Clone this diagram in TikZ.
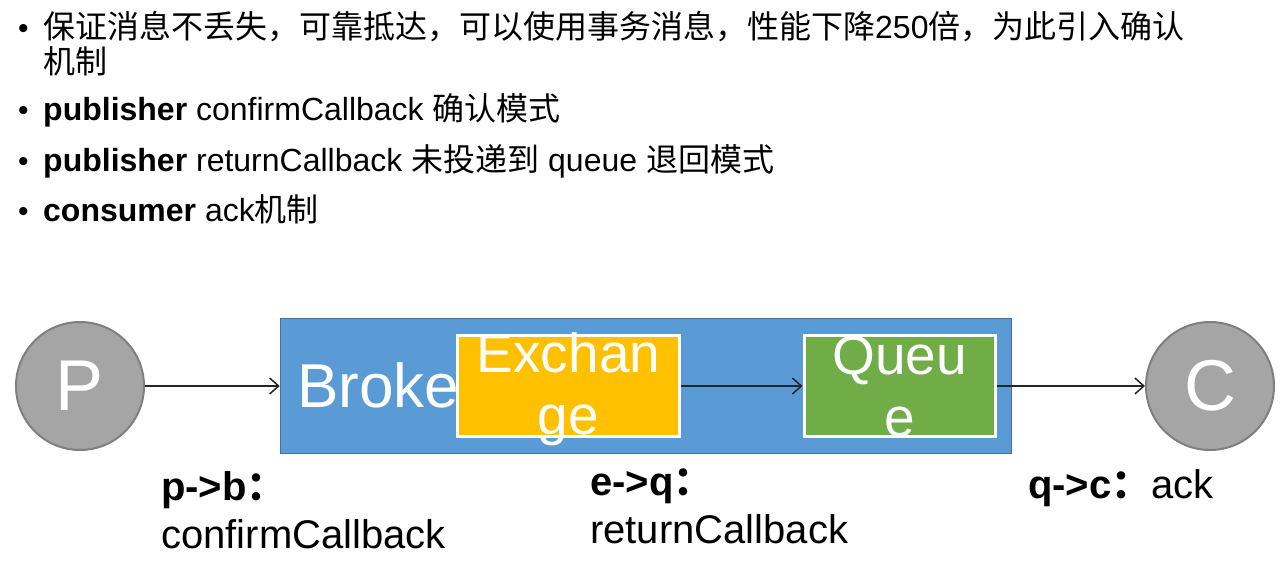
\documentclass[tikz,border=0pt]{standalone}
\usepackage{fontspec}
\setmainfont{Liberation Sans}
\newfontfamily\cjk{Noto Sans CJK SC}
\usetikzlibrary{arrows.meta,positioning}
\newcommand{\zh}[1]{{\cjk #1}}
\newcommand{\fs}[2]{\fontsize{#1}{#2}\selectfont}
\definecolor{brokerblue}{HTML}{5B9BD5}
\definecolor{brokerline}{HTML}{41719C}
\definecolor{exyellow}{HTML}{FFC000}
\definecolor{qgreen}{HTML}{70AD47}
\definecolor{endgray}{HTML}{A5A5A5}
\definecolor{endline}{HTML}{7F7F7F}

\begin{document}
\begin{tikzpicture}
[x=1pt,y=-1pt, >={Straight Barb[length=9pt,width=16pt]},
item/.style={anchor=base west,inner sep=0pt,align=left,font=\fs{32}{35}},
dot/.style={anchor=base west,inner sep=0pt,font=\fs{30}{30}},
ends/.style={circle,draw=endline,line width=2pt,fill=endgray,
minimum size=128pt,inner sep=0pt,text=white,font=\fs{72}{72}},
inbox/.style={draw=white,line width=3pt,minimum width=#1,
minimum height=101pt,inner sep=0pt},
boxtext/.style={text=white,align=center,anchor=base,inner sep=0pt,font=\fs{55}{62}},
lbl/.style={anchor=base west,inner sep=0pt,align=left,font=\fs{40}{48}},
flow/.style={->,line width=1.5pt,black!85}]

\useasboundingbox (0,0) rectangle (1286,578);

% bullet list (base = last line)
\node[dot] (d1) at (18,39) {\textbullet};
\node[item] (t1) at (43,74) {\zh{保证消息不丢失，可靠抵达，可以使用事务消息，性能下降}250\zh{倍，为此引入确认}\\\zh{机制}};
\node[dot] (d2) at (18,121) {\textbullet};
\node[item] (t2) at (43,121) {\textbf{publisher} confirmCallback \zh{确认模式}};
\node[dot] (d3) at (18,171) {\textbullet};
\node[item] (t3) at (43,171) {\textbf{publisher} returnCallback \zh{未投递到} queue \zh{退回模式}};
\node[dot] (d4) at (18,221) {\textbullet};
\node[item] (t4) at (43,221) {\textbf{consumer} ack\zh{机制}};

% broker with exchange and queue
\node (broker) at (646,386) [draw=brokerline,line width=1.5pt,fill=brokerblue,
minimum width=731pt,minimum height=135pt,inner sep=0pt] {};
\node (brk) at (297,407) [anchor=base west,inner sep=0pt,text=white,font=\fs{62}{62}] {Broker};
\node (ex) at (568.5,386) [inbox=222pt,fill=exyellow] {};
\node (ext) [boxtext,yshift=-48pt] at (ex.center) {Exchan\\ge};
\node (q) at (899.5,386) [inbox=191pt,fill=qgreen] {};
\node (qt) [boxtext,yshift=-50pt] at (q.center) {Queu\\e};

% producer and consumer
\node (p) at (80,386) [ends] {P};
\node (c) at (1210,386) [ends] {C};

\draw[flow] (p) -- (broker);
\draw[flow] (ex) -- (q);
\draw[flow] (q) -- (c);

% callback labels
\node[lbl] (pb) at (161,548) {\textbf{p->b}\zh{\bfseries ：}\\confirmCallback};
\node[lbl] (eq) at (590,543) {\textbf{e->q}\zh{\bfseries ：}\\returnCallback};
\node[lbl] (qc) at (1028,498) {\textbf{q->c}\zh{\bfseries ：}ack};

\end{tikzpicture}
\end{document}
